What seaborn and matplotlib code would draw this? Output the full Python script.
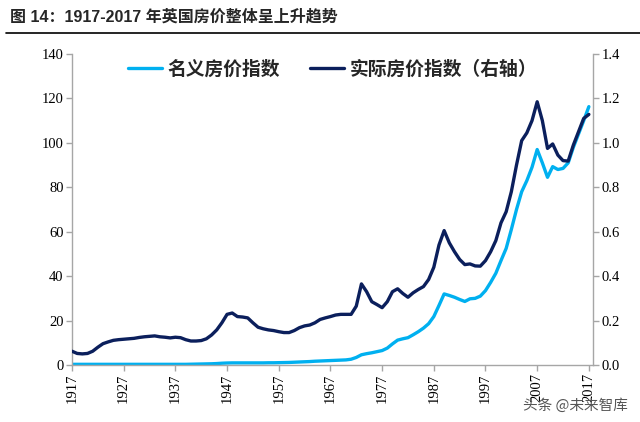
#!/usr/bin/python3
import seaborn as sns
import pandas as pd
import matplotlib.pyplot as plt
from matplotlib.lines import Line2D

sns.set_theme(style="white")
plt.rcParams['font.family'] = ['Liberation Serif', 'Noto Sans CJK SC']

years = list(range(1917, 2018))

# 名义房价指数 (left axis)
nominal = [0.3] * 23 + [
  0.35, 0.4, 0.45, 0.5, 0.55, 0.65, 0.8, 0.9, 0.95, 0.95,
  0.95, 0.95, 0.95, 0.95, 0.95, 1.0, 1.0, 1.05, 1.1, 1.15,
  1.25, 1.35, 1.45, 1.55, 1.7, 1.8, 1.9, 2.0, 2.1, 2.2,
  2.3, 2.6, 3.4, 4.6, 5.1, 5.5, 6.0, 6.5, 7.6, 9.5,
  11.2, 11.8, 12.3, 13.6, 15.0, 16.6, 18.6, 21.8, 26.8, 32.0,
  31.3, 30.5, 29.5, 28.6, 29.8, 30.0, 31.0, 33.5, 37.2, 41.3,
  47.0, 52.5, 61.0, 70.0, 78.0, 83.0, 89.0, 97.0, 91.0, 84.5,
  89.3, 88.0, 88.5, 91.0, 98.0, 104.0, 110.0, 116.3,
]

# 实际房价指数 (right axis)
real = [
  0.062, 0.052, 0.050, 0.052, 0.062, 0.080, 0.096, 0.104, 0.111, 0.114,
  0.116, 0.118, 0.120, 0.124, 0.127, 0.129, 0.131, 0.127, 0.125, 0.122,
  0.125, 0.123, 0.114, 0.108, 0.108, 0.110, 0.118, 0.135, 0.158, 0.190,
  0.228, 0.234, 0.218, 0.216, 0.212, 0.190, 0.170, 0.163, 0.158, 0.155,
  0.150, 0.146, 0.146, 0.155, 0.168, 0.176, 0.180, 0.190, 0.205, 0.212,
  0.218, 0.225, 0.228, 0.228, 0.228, 0.265, 0.365, 0.330, 0.285, 0.272,
  0.258, 0.285, 0.330, 0.343, 0.322, 0.305, 0.325, 0.340, 0.353, 0.385,
  0.440, 0.540, 0.605, 0.550, 0.510, 0.475, 0.452, 0.455, 0.446, 0.445,
  0.470, 0.510, 0.560, 0.640, 0.690, 0.780, 0.900, 1.010, 1.045, 1.100,
  1.185, 1.100, 0.975, 0.995, 0.945, 0.920, 0.918, 0.990, 1.050, 1.110,
  1.128,
]

xticks = list(range(1917, 2018, 10))

light = '#00B0F0'
navy = '#0B1F5C'
grey = '#A6A6A6'

df = pd.DataFrame({'year': years, 'nominal': nominal, 'real': real})

fig = plt.figure(figsize=(6.4, 4.22), dpi=100)
ax = fig.add_axes([72 / 640, 57 / 422, 521 / 640, 311 / 422])
ax2 = ax.twinx()

sns.lineplot(data=df, x='year', y='nominal', ax=ax, color=light, lw=2.4,
             solid_joinstyle='round', solid_capstyle='round')
sns.lineplot(data=df, x='year', y='real', ax=ax2, color=navy, lw=2.4,
             solid_joinstyle='round', solid_capstyle='round')

ax.set_xlim(1917, 2017.8)
ax.set_ylim(0, 140)
ax2.set_ylim(0, 1.4)
ax.set_yticks(range(0, 141, 20))
ax2.set_yticks([i / 10 for i in range(0, 15, 2)])
ax2.set_yticklabels(['%.1f' % (i / 10) for i in range(0, 15, 2)])
ax.set_xticks(xticks)
ax.set_xticklabels([str(y) for y in xticks], rotation=90)
ax.set_xlabel('')
ax.set_ylabel('')
ax2.set_ylabel('')

for a in (ax, ax2):
  for s in a.spines.values():
    s.set_color(grey)
    s.set_linewidth(1.0)
  a.spines['top'].set_visible(False)
  a.tick_params(colors=grey, labelcolor='black', labelsize=10.5,
                length=4, width=1.0, direction='out')
ax.spines['right'].set_visible(False)
ax2.spines['left'].set_visible(False)
ax2.spines['bottom'].set_visible(False)
ax.tick_params(axis='y', left=True, pad=2)
ax.tick_params(axis='x', bottom=True, pad=2)
ax2.tick_params(axis='y', right=True, pad=2)

handles = [Line2D([], [], color=light, lw=2.4), Line2D([], [], color=navy, lw=2.4)]
ax.legend(handles, ['名义房价指数', '实际房价指数（右轴）'], loc='upper center',
          bbox_to_anchor=(0.5, 1.035), ncol=2, frameon=False,
          prop={'family': 'Noto Sans CJK SC', 'size': 13.5, 'weight': 'bold'},
          handlelength=1.8, columnspacing=1.6, handletextpad=0.3)

fig.text(10 / 640, 1 - 17 / 422, '图 14：1917-2017 年英国房价整体呈上升趋势',
         fontsize=11.5, fontweight='bold', va='center', ha='left',
         family=['Liberation Sans', 'Noto Sans CJK SC'])
fig.add_artist(Line2D([6 / 640, 1.0], [1 - 33 / 422, 1 - 33 / 422],
                      color='black', lw=1.2, transform=fig.transFigure))

fig.text(628 / 640, 1 - 406 / 422, '头条 @未来智库', fontsize=10.5, color='#555555',
         ha='right', va='center', family=['Noto Sans CJK SC', 'DejaVu Sans'])

fig.savefig('out.png', dpi=100)
